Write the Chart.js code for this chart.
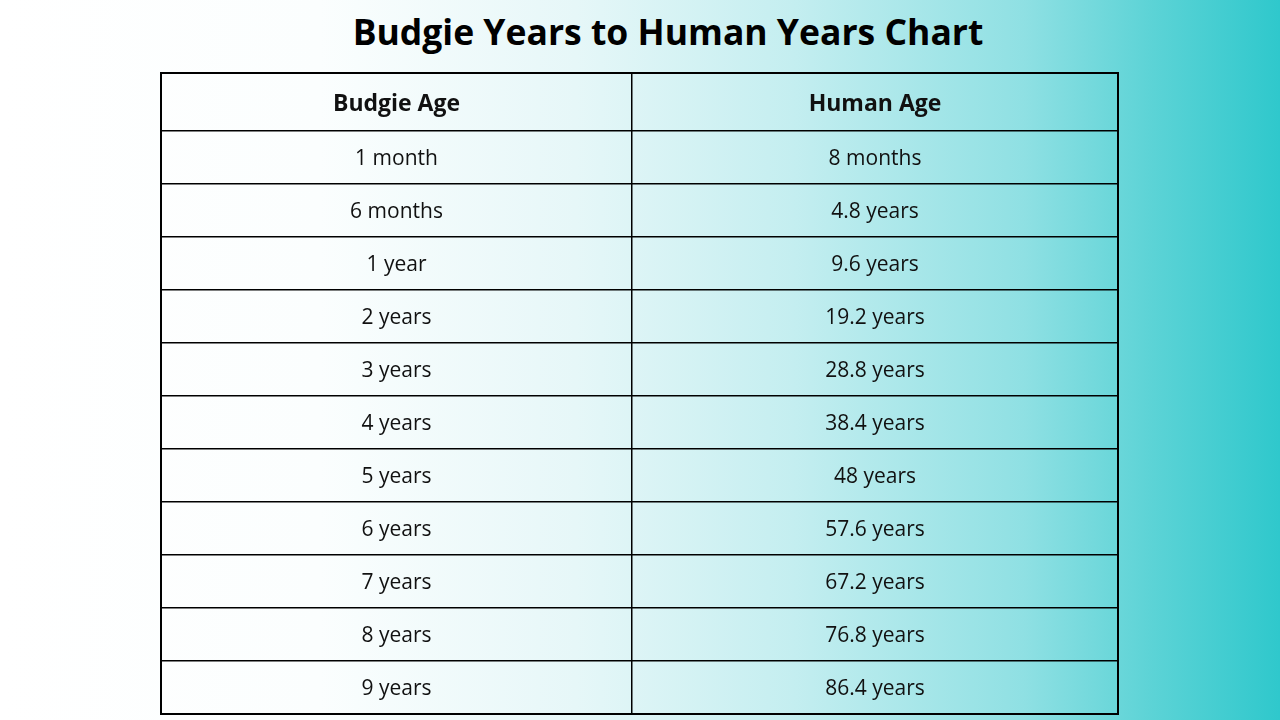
<!DOCTYPE html>
<html><head><meta charset="utf-8">
<script src="https://cdn.jsdelivr.net/npm/chart.js@4"></script>
<style>
html,body{margin:0;padding:0;width:1280px;height:720px;overflow:hidden;
background:linear-gradient(90deg,#ffffff 0%,#fbfefe 25%,#e6f7f8 45%,#c4eef0 62%,#8fe0e3 80%,#5cd3d6 90%,#2fc8cc 100%);}
#t{position:absolute;top:7px;left:0;width:1336px;text-align:center;font:bold 35.5px "Open Sans",sans-serif;color:#000;}
canvas{position:absolute;left:0;top:0}
</style></head><body>
<div id="t">Budgie Years to Human Years Chart</div>
<canvas id="c" width="1280" height="720"></canvas>
<script>
const headers=["Budgie Age","Human Age"];
const budgieAges=["1 month","6 months","1 year","2 years","3 years","4 years","5 years","6 years","7 years","8 years","9 years"];
const humanAges=["8 months","4.8 years","9.6 years","19.2 years","28.8 years","38.4 years","48 years","57.6 years","67.2 years","76.8 years","86.4 years"];
const colEdges=[0,471,957];
const headerSpan=58/53;
const textPlugin={id:'txt',afterDraw(ch){
 const c=ch.ctx,x=ch.scales.x,y=ch.scales.y;
 c.save();c.fillStyle='#111';c.textAlign='center';c.textBaseline='middle';
 const cols=[budgieAges,humanAges];
 for(let j=0;j<2;j++){
  const cx=x.getPixelForValue((colEdges[j]+colEdges[j+1])/2);
  c.font='bold 23px "Open Sans",sans-serif';
  c.fillText(headers[j],cx,y.getPixelForValue(-headerSpan/2)+2);
  c.font='21px "Open Sans",sans-serif';
  cols[j].forEach((v,i)=>c.fillText(v,cx,y.getPixelForValue(i+0.5)+2));
 }
 c.strokeStyle='#000';c.lineWidth=2;
 c.strokeRect(ch.chartArea.left,ch.chartArea.top,ch.chartArea.right-ch.chartArea.left,ch.chartArea.bottom-ch.chartArea.top);
 c.restore();}};
new Chart(document.getElementById('c'),{type:'scatter',data:{datasets:[{data:[]}]},
options:{responsive:false,animation:false,events:[],layout:{padding:{left:161,right:162,top:73,bottom:6}},
plugins:{legend:{display:false},tooltip:{enabled:false}},
scales:{
 x:{type:'linear',min:0,max:957,afterBuildTicks:s=>{s.ticks=colEdges.map(v=>({value:v}));},
   ticks:{display:false},grid:{color:'#000',lineWidth:1.5,drawTicks:false},border:{display:false}},
 y:{type:'linear',reverse:true,min:-headerSpan,max:11,afterBuildTicks:s=>{const t=[{value:-headerSpan}];for(let i=0;i<=11;i++)t.push({value:i});s.ticks=t;},
   ticks:{display:false},grid:{color:'#000',lineWidth:1.5,drawTicks:false},border:{display:false}}
}},plugins:[textPlugin]});
</script></body></html>
